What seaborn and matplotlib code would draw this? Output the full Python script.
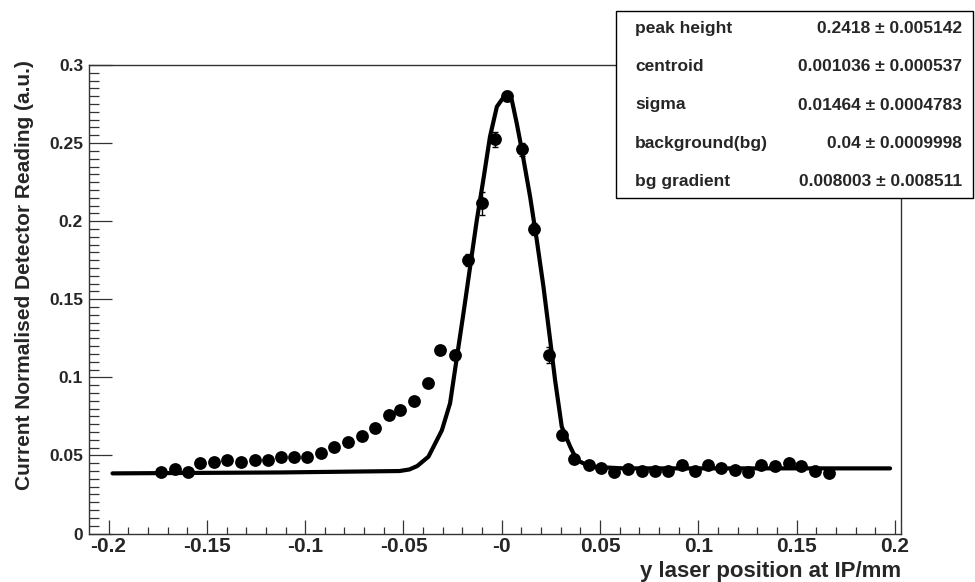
import matplotlib
matplotlib.use("Agg")
import matplotlib.pyplot as plt
import matplotlib.patches as mpatches
from matplotlib.ticker import MultipleLocator, FixedLocator, FixedFormatter
import numpy as np
import pandas as pd
import seaborn as sns

sns.set_style("ticks")
plt.rcParams["font.family"] = ["Liberation Sans", "DejaVu Sans"]
plt.rcParams["font.weight"] = "bold"

# -------- scan points --------
y_pos = [-0.1735, -0.1662, -0.1596, -0.1535, -0.1464, -0.1396, -0.1325, -0.1257,
         -0.1190, -0.1122, -0.1058, -0.0990, -0.0922, -0.0851, -0.0784, -0.0711,
         -0.0643, -0.0576, -0.0516, -0.0449, -0.0376, -0.0313, -0.0237, -0.0173,
         -0.0102, -0.0034, 0.0028, 0.0102, 0.0165, 0.0242, 0.0305, 0.0369,
         0.0445, 0.0504, 0.0570, 0.0643, 0.0711, 0.0778, 0.0846, 0.0919,
         0.0981, 0.1049, 0.1117, 0.1184, 0.1252, 0.1320, 0.1388, 0.1460,
         0.1523, 0.1591, 0.1663]
reading = [0.0396, 0.0413, 0.0396, 0.0450, 0.0460, 0.0471, 0.0460, 0.0471,
           0.0471, 0.0488, 0.0488, 0.0488, 0.0517, 0.0552, 0.0588, 0.0624,
           0.0674, 0.0759, 0.0791, 0.0850, 0.0962, 0.1175, 0.1143, 0.1751,
           0.2114, 0.2524, 0.2801, 0.2460, 0.1950, 0.1143, 0.0631, 0.0475,
           0.0439, 0.0417, 0.0396, 0.0413, 0.0400, 0.0400, 0.0400, 0.0439,
           0.0400, 0.0439, 0.0417, 0.0407, 0.0396, 0.0439, 0.0432, 0.0450,
           0.0432, 0.0400, 0.0385]
reading_err = [0.001, 0.001, 0.001, 0.001, 0.001, 0.001, 0.001, 0.001,
               0.001, 0.001, 0.001, 0.001, 0.001, 0.001, 0.001, 0.001,
               0.001, 0.001, 0.001, 0.0015, 0.0015, 0.002, 0.003, 0.004,
               0.0075, 0.005, 0.003, 0.004, 0.004, 0.005, 0.003, 0.0015,
               0.001, 0.001, 0.001, 0.001, 0.001, 0.001, 0.001, 0.001,
               0.001, 0.001, 0.001, 0.001, 0.001, 0.001, 0.001, 0.001,
               0.001, 0.001, 0.001]

# fitted curve
fit_x = [-0.198, -0.112, -0.052, -0.047, -0.043, -0.0373, -0.0305, -0.0263, -0.0238,
         -0.0195, -0.0161, -0.0127, -0.0094, -0.0060, -0.0025, 0.0017, 0.0051,
         0.0076, 0.0102, 0.0144, 0.0178, 0.0212, 0.0246, 0.0271, 0.0305,
         0.0348, 0.0381, 0.0449, 0.0619, 0.1975]
fit_y = [0.0385, 0.0391, 0.0400, 0.0410, 0.0432, 0.0492, 0.0660, 0.0834, 0.1047,
         0.1410, 0.1708, 0.2007, 0.2264, 0.2541, 0.2733, 0.2808, 0.2776,
         0.2627, 0.2456, 0.2157, 0.1879, 0.1580, 0.1239, 0.0983, 0.0684,
         0.0556, 0.0471, 0.0428, 0.0417, 0.0417]

# fit results box
par_names = ["peak height", "centroid", "sigma", "background(bg)", "bg gradient"]
par_values = ["0.2418 \u00b1 0.005142", "0.001036 \u00b1 0.000537",
              "0.01464 \u00b1 0.0004783", "0.04 \u00b1 0.0009998",
              "0.008003 \u00b1 0.008511"]

x_ticks = [-0.2, -0.15, -0.1, -0.05, 0.0, 0.05, 0.1, 0.15, 0.2]
x_labels = ["-0.2", "-0.15", "-0.1", "-0.05", "-0", "0.05", "0.1", "0.15", "0.2"]
y_ticks = [0.0, 0.05, 0.1, 0.15, 0.2, 0.25, 0.3]
y_labels = ["0", "0.05", "0.1", "0.15", "0.2", "0.25", "0.3"]

pts = pd.DataFrame({"y_pos": y_pos, "reading": reading, "err": reading_err})
fit = pd.DataFrame({"x": fit_x, "y": fit_y})

W, H = 975, 582
fig = plt.figure(figsize=(W / 100, H / 100), dpi=100)
ax = fig.add_axes([89.3 / W, (H - 533.5) / H, (900.7 - 89.3) / W, (533.5 - 65) / H])

ax.errorbar(pts["y_pos"], pts["reading"], yerr=pts["err"], fmt="none",
            ecolor="black", elinewidth=1.0, capsize=2.5, capthick=1.0, zorder=2)
sns.scatterplot(data=pts, x="y_pos", y="reading", ax=ax, color="black",
                marker="o", s=85, linewidth=0, zorder=3, legend=False)
sns.lineplot(data=fit, x="x", y="y", ax=ax, color="black", linewidth=3.0,
             sort=False, estimator=None, zorder=4)

ax.set_xlim(-0.2098, 0.2029)
ax.set_ylim(0.0, 0.3)

ax.xaxis.set_major_locator(FixedLocator(x_ticks))
ax.xaxis.set_major_formatter(FixedFormatter(x_labels))
ax.xaxis.set_minor_locator(MultipleLocator(0.01))
ax.yaxis.set_major_locator(FixedLocator(y_ticks))
ax.yaxis.set_major_formatter(FixedFormatter(y_labels))
ax.yaxis.set_minor_locator(MultipleLocator(0.005))

ax.tick_params(axis="x", which="major", direction="in", length=10, width=0.9,
               color="#333333", labelsize=15, pad=2.5)
ax.tick_params(axis="x", which="minor", direction="in", length=5, width=0.9,
               color="#333333")
ax.tick_params(axis="y", which="major", direction="in", length=16.5, width=0.9,
               color="#333333", labelsize=12.5, pad=4.5)
ax.tick_params(axis="y", which="minor", direction="in", length=7.2, width=0.9,
               color="#333333")
for lbl in ax.get_xticklabels() + ax.get_yticklabels():
    lbl.set_fontweight("bold")

for sp in ax.spines.values():
    sp.set_visible(True)
    sp.set_color("#333333")
    sp.set_linewidth(1.0)

ax.set_xlabel("y laser position at IP/mm", loc="right", fontsize=16,
              fontweight="bold")
ax.xaxis.set_label_coords(1.0, -0.058)
ax.set_ylabel("Current Normalised Detector Reading (a.u.)", loc="top",
              fontsize=15, fontweight="bold")
ax.yaxis.set_label_coords(-0.068, 1.011)

# -------- stats box --------
bx0, bx1, by0, by1 = 616, 973, 10.7, 198
box = mpatches.Rectangle((bx0 / W, 1 - by1 / H), (bx1 - bx0) / W, (by1 - by0) / H,
                         transform=fig.transFigure, facecolor="white",
                         edgecolor="black", linewidth=1.0, zorder=10)
fig.patches.append(box)
row_y = [28.3, 66.7, 105, 143.3, 181.7]
for name, val, ry in zip(par_names, par_values, row_y):
    fig.text(635 / W, 1 - ry / H, name, ha="left", va="center", fontsize=12.5,
             fontweight="bold", zorder=11)
    fig.text(962 / W, 1 - ry / H, val, ha="right", va="center", fontsize=12.5,
             fontweight="bold", zorder=11)

fig.savefig("out.png", dpi=100)
